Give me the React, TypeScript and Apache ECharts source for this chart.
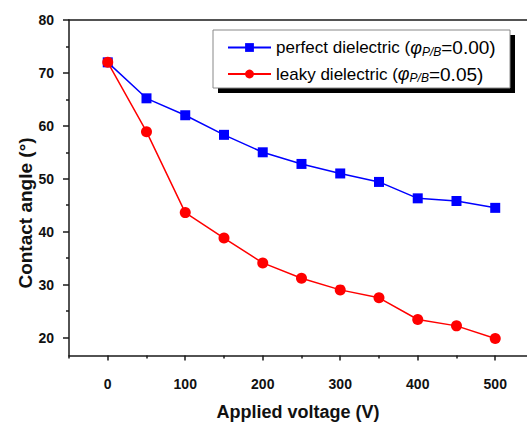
import React, { useEffect, useRef } from "react";
import * as echarts from "echarts";

const voltage = [0, 50, 100, 150, 200, 250, 300, 350, 400, 450, 500];
const perfect = [72.0, 65.2, 62.0, 58.3, 55.0, 52.8, 51.0, 49.4, 46.3, 45.8, 44.5];
const leaky = [72.0, 58.9, 43.6, 38.8, 34.1, 31.2, 29.0, 27.5, 23.4, 22.2, 19.8];

const xMajor = [0, 100, 200, 300, 400, 500];
const xMinor = [-50, 50, 150, 250, 350, 450];
const yMajor = [20, 30, 40, 50, 60, 70, 80];
const yMinor = [25, 35, 45, 55, 65, 75];

const perfectName = "perfect dielectric (φP/B=0.00)";
const leakyName = "leaky dielectric (φP/B=0.05)";

const X_MIN = -50;
const X_MAX = 541;
const Y_MIN = 16.6;
const Y_MAX = 80;

const FONT = "Arial, 'Liberation Sans', sans-serif";
const AXIS_COLOR = "#1a1a1a";

export default function App() {
  const ref = useRef<HTMLDivElement>(null);
  useEffect(() => {
    if (!ref.current) return;
    const chart = echarts.init(ref.current, undefined, { renderer: "svg" });
    const baseX = {
      type: "value" as const,
      min: X_MIN,
      max: X_MAX,
      splitLine: { show: false },
    };
    const baseY = {
      type: "value" as const,
      min: Y_MIN,
      max: Y_MAX,
      splitLine: { show: false },
    };
    const hiddenLine = { show: true, onZero: false, lineStyle: { color: "rgba(0,0,0,0)", width: 0 } };
    const tickStyle = { color: AXIS_COLOR, width: 1.5 };
    chart.setOption({
      animation: false,
      backgroundColor: "#ffffff",
      grid: {
        left: 69,
        right: 0,
        top: 20,
        bottom: 67.5,
        containLabel: false,
        outerBoundsMode: "none",
      },
      xAxis: [
        {
          ...baseX,
          position: "bottom",
          axisLine: { show: true, onZero: false, lineStyle: { color: AXIS_COLOR, width: 1.5 } },
          axisTick: { show: true, inside: false, length: 3, customValues: xMinor, lineStyle: tickStyle },
          axisLabel: {
            show: true,
            customValues: xMajor,
            margin: 21,
            fontSize: 14,
            fontWeight: "bold",
            fontFamily: FONT,
            color: "#111",
          },
          name: "Applied voltage (V)",
          nameLocation: "middle",
          nameGap: 47,
          nameTextStyle: { fontSize: 18, fontWeight: "bold", fontFamily: FONT, color: "#111" },
        },
        {
          ...baseX,
          position: "bottom",
          axisLine: hiddenLine,
          axisTick: { show: true, inside: false, length: 5, customValues: xMajor, lineStyle: tickStyle },
          axisLabel: { show: false, customValues: xMajor },
        },
        {
          ...baseX,
          position: "top",
          axisLine: { show: true, onZero: false, lineStyle: { color: AXIS_COLOR, width: 1.5 } },
          axisTick: { show: false },
          axisLabel: { show: false },
        },
      ],
      yAxis: [
        {
          ...baseY,
          position: "left",
          axisLine: { show: true, onZero: false, lineStyle: { color: AXIS_COLOR, width: 1.5 } },
          axisTick: { show: true, inside: false, length: 3, customValues: yMinor, lineStyle: tickStyle },
          axisLabel: {
            show: true,
            customValues: yMajor,
            margin: 15,
            fontSize: 14,
            fontWeight: "bold",
            fontFamily: FONT,
            color: "#111",
          },
        },
        {
          ...baseY,
          position: "left",
          axisLine: hiddenLine,
          axisTick: { show: true, inside: false, length: 6, customValues: yMajor, lineStyle: tickStyle },
          axisLabel: { show: false, customValues: yMajor },
        },
      ],
      legend: {
        z: 100,
        orient: "vertical",
        left: 227,
        top: 38,
        padding: 0,
        itemGap: 7,
        itemWidth: 43,
        itemHeight: 11,
        data: [perfectName, leakyName],
        formatter: (name: string) =>
          name === perfectName
            ? "perfect dielectric ({phi|φ}{sub|P/B}{tail|=0.00)}"
            : "leaky dielectric ({phi|φ}{sub|P/B}{tail|=0.05)}",
        textStyle: {
          fontSize: 17,
          fontFamily: FONT,
          color: "#000",
          rich: {
            phi: { fontSize: 18, fontStyle: "italic", fontFamily: FONT, color: "#000" },
            sub: { fontSize: 12, fontStyle: "italic", fontFamily: FONT, color: "#000", verticalAlign: "bottom", padding: [8, 0, 0, 0] },
            tail: { fontSize: 19, fontFamily: FONT, color: "#000" },
          },
        },
      },
      graphic: [
        { type: "rect", z: 50, shape: { x: 218, y: 35, width: 297, height: 58 }, style: { fill: "#000" } },
        { type: "rect", z: 51, shape: { x: 213, y: 30, width: 297, height: 58 }, style: { fill: "#fff", stroke: "#888", lineWidth: 1 } },
        {
          type: "text",
          z: 60,
          x: 25,
          y: 213,
          rotation: Math.PI / 2,
          style: {
            text: "Contact angle (°)",
            fontSize: 19,
            fontWeight: "bold",
            fontFamily: FONT,
            fill: "#111",
            align: "center",
            verticalAlign: "middle",
          },
        },
      ],
      series: [
        {
          name: perfectName,
          type: "line",
          xAxisIndex: 0,
          yAxisIndex: 0,
          data: voltage.map((v, i) => [v, perfect[i]]),
          symbol: "rect",
          symbolSize: 10,
          lineStyle: { color: "#0000ff", width: 1.5 },
          itemStyle: { color: "#0000ff" },
          z: 2,
        },
        {
          name: leakyName,
          type: "line",
          xAxisIndex: 0,
          yAxisIndex: 0,
          data: voltage.map((v, i) => [v, leaky[i]]),
          symbol: "circle",
          symbolSize: 11,
          lineStyle: { color: "#ff0000", width: 1.5 },
          itemStyle: { color: "#ff0000" },
          z: 3,
        },
      ],
    });
    return () => chart.dispose();
  }, []);
  return (
    <div
      ref={ref}
      style={{ position: "fixed", left: 0, top: 0, width: 527, height: 423, background: "#fff" }}
    />
  );
}
